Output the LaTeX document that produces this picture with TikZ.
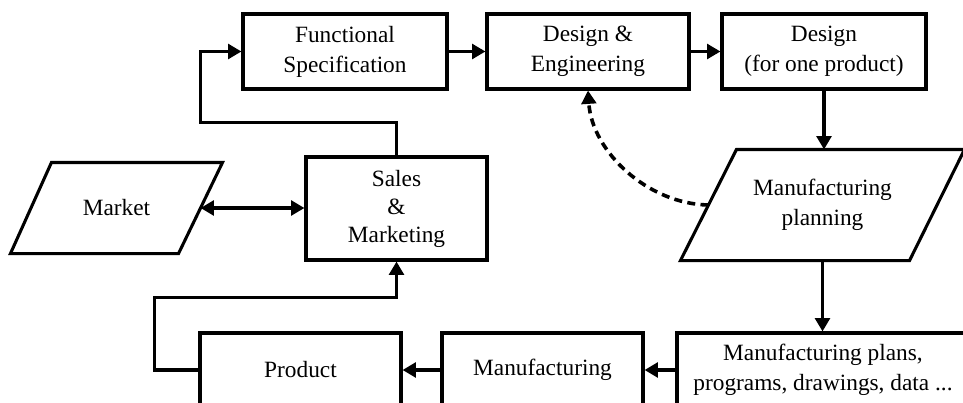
\documentclass[tikz,border=0pt]{standalone}
\usepackage{fontspec}
\setmainfont{Liberation Serif}
\usetikzlibrary{arrows.meta,calc}

\begin{document}
\begin{tikzpicture}[
  x=0.75pt, y=-0.75pt,
  line width=2.3pt,
  every node/.style={font=\fontsize{17.5}{22.5}\selectfont, align=center, inner sep=0pt},
  box/.style={draw, rectangle, minimum height=#1*0.75pt},
  box/.default=75,
  wd/.style={minimum width=#1*0.75pt},
  link/.style={line width=2.7pt},
  arr/.style={link, -{Triangle[length=10pt,width=11pt]}},
  darr/.style={link, {Triangle[length=10pt,width=11pt]}-{Triangle[length=10pt,width=11pt]}},
  shapeonly/.style={rectangle, minimum width=#1*0.75pt},
]
\useasboundingbox (0,0) rectangle (963,403);
\clip (0,0) rectangle (963,403);

% top row
\node[box, wd=204] (fs) at (345,51.5) {Functional\\Specification};
\node[box, wd=202] (de) at (588,51.5) {Design \&\\Engineering};
\node[box, wd=204] (ds) at (824,51.5) {Design\\(for one product)};

% sales and market
\node[box=103, wd=181, font=\fontsize{17.5}{21}\selectfont] (sales) at (396.5,208.5) {Sales\\\&\\Marketing};

\node[shapeonly=209, minimum height=88*0.75pt] (mkt) at (116.5,208) {Market};
\draw ($(mkt.north west)+(41,0)$) -- (mkt.north east)
      -- ($(mkt.south east)+(-44,0)$) -- (mkt.south west) -- cycle;

% manufacturing planning
\node[shapeonly=281, minimum height=108*0.75pt] (mpl) at (822.5,205) {Manufacturing\\planning};
\draw ($(mpl.north west)+(56,0)$) -- (mpl.north east)
      -- ($(mpl.south east)+(-55,0)$) -- (mpl.south west) -- cycle;

% bottom row
\node[box=74, wd=201] (prod) at (300.5,370) {Product};
\node[box=74, wd=201] (mfg) at (542.5,370) {Manufacturing};
\node[box=74, wd=292] (mpb) at (823,370) {Manufacturing plans,\\programs, drawings, data ...};

% connectors
\coordinate (mktr) at ($($(mkt.north east)$)!0.5!($(mkt.south east)+(-44,0)$)$);
\draw[darr] (mktr) -- (sales.west |- mktr);

\draw[arr] (sales.north) -- ++(0,-33) -| ($(fs.west)+(-41,0)$) -- (fs.west);
\draw[arr] (fs.east) -- (de.west);
\draw[arr] (de.east) -- (ds.west);
\draw[arr] (ds.south) -- (ds.south |- mpl.north);
\draw[arr] (mpl.south) -- (mpl.south |- mpb.north);
\draw[arr] (mpb.west) -- (mfg.east);
\draw[arr] (mfg.west) -- (prod.east);
\draw[arr] (prod.west) -- ++(-44,0) |- ($(sales.south)+(0,36)$) -- (sales.south);

\coordinate (mpll) at ($($(mpl.north west)+(56,0)$)!0.5!(mpl.south west)$);
\draw[arr, dash pattern=on 6pt off 4pt] (mpll) .. controls (648,204) and (592,152) .. (de.south);
\end{tikzpicture}
\end{document}
